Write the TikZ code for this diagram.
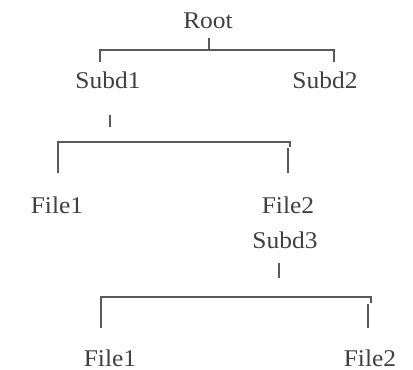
\documentclass[tikz,border=0pt]{standalone}
\usepackage{fontspec}
\setmainfont[FakeStretch=1.06]{Liberation Serif}
\begin{document}
\begin{tikzpicture}[x=1pt,y=-1pt,
  lbl/.style={anchor=base,inner sep=0pt,text=black!75,font=\fontsize{24}{28}\selectfont},
  ln/.style={draw=black!65,line width=1.1pt}]
\useasboundingbox (0,0) rectangle (413,370);
% nodes
\node[lbl] (root) at (208,28) {Root};
\node[lbl] (s1) at (108,88) {Subd1};
\node[lbl] (s2) at (325,88) {Subd2};
\node[lbl] (f1) at (57,213) {File1};
\node[lbl] (f2) at (288,213) {File2};
\node[lbl] (s3) at (285,248) {Subd3};
\node[lbl] (g1) at (110,366) {File1};
\node[lbl] (g2) at (370,366) {File2};
% bracket 1
\coordinate (r0) at (209,38);
\coordinate (r1) at (209,50);
\coordinate (a0) at (100,62);
\coordinate (a1) at (100,50);
\coordinate (b1) at (334,50);
\coordinate (b0) at (334,62);
\draw[ln] (r0) -- (r1);
\draw[ln] (a0) -- (a1) -- (b1) -- (b0);
% tick under Subd1 and bracket 2
\coordinate (t0) at (110,115);
\coordinate (t1) at (110,127);
\draw[ln] (t0) -- (t1);
\coordinate (c0) at (58,173);
\coordinate (c1) at (58,142);
\coordinate (d1) at (290,142);
\coordinate (d2) at (288,148);
\coordinate (d0) at (288,173);
\draw[ln] (c0) -- (c1) -- (d1) -- ++(0,5);
\draw[ln] (d2) -- (d0);
% tick under Subd3 and bracket 3
\coordinate (u0) at (279,263);
\coordinate (u1) at (279,278);
\draw[ln] (u0) -- (u1);
\coordinate (e0) at (101,328);
\coordinate (e1) at (101,297);
\coordinate (h1) at (371,297);
\coordinate (h2) at (368,304);
\coordinate (h0) at (368,328);
\draw[ln] (e0) -- (e1) -- (h1) -- ++(0,6);
\draw[ln] (h2) -- (h0);
\end{tikzpicture}
\end{document}
